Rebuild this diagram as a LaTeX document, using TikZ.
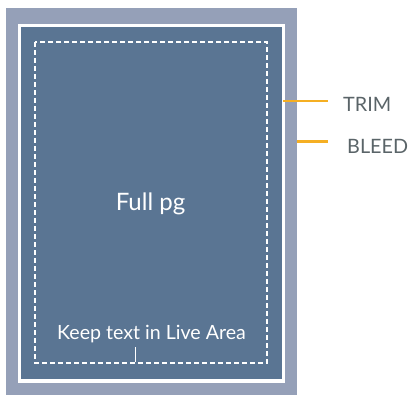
\documentclass[tikz,border=0pt]{standalone}
\usepackage{fontspec}
\setmainfont{Lato}
\begin{document}
\begin{tikzpicture}[x=1pt,y=-1pt,
  labeltext/.style={text=labelgray,font=\fontsize{19.8}{22}\selectfont,anchor=base west,inner sep=0pt},
  marker/.style={draw=trimorange,line width=2.2pt},
  livebox/.style={draw=white,line width=1.8pt,dash pattern=on 5pt off 3pt}]
\definecolor{bleedgray}{HTML}{95A0B8}
\definecolor{pagefill}{HTML}{5A7593}
\definecolor{trimorange}{HTML}{F5AF23}
\definecolor{labelgray}{HTML}{5A6468}
\useasboundingbox (0,0) rectangle (411,395);
% bleed area
\fill[bleedgray] (6,8) rectangle (297,395);
% trim line (white) and page
\fill[white] (17.5,24) rectangle (284.5,382.5);
\fill[pagefill] (20.7,27.5) rectangle (281.5,379.3);
% live area
\draw[livebox] (35,42) rectangle (267,363);
% texts
\node[text=white,font=\fontsize{24}{26}\selectfont,anchor=base,inner sep=0pt] (full) at (150.5,210.5) {Full pg};
\node[text=white,font=\fontsize{19.6}{22}\selectfont,anchor=base,inner sep=0pt] (keep) at (151.5,339.5) {Keep text in Live Area};
\coordinate (tickbot) at (135,362);
\draw[white,line width=0.8pt] ([yshift=-4pt]keep.south -| tickbot) -- (tickbot);
% labels
\node[labeltext] (trim) at (343,111.5) {TRIM};
\node[labeltext] (bleed) at (347,153.5) {BLEED};
\coordinate (trimstart) at (283,101);
\coordinate (trimend) at (328,101);
\coordinate (bleedstart) at (297,141.5);
\coordinate (bleedend) at (328,141.5);
\draw[marker] (trimstart) -- (trimend);
\draw[marker] (bleedstart) -- (bleedend);
\end{tikzpicture}
\end{document}
